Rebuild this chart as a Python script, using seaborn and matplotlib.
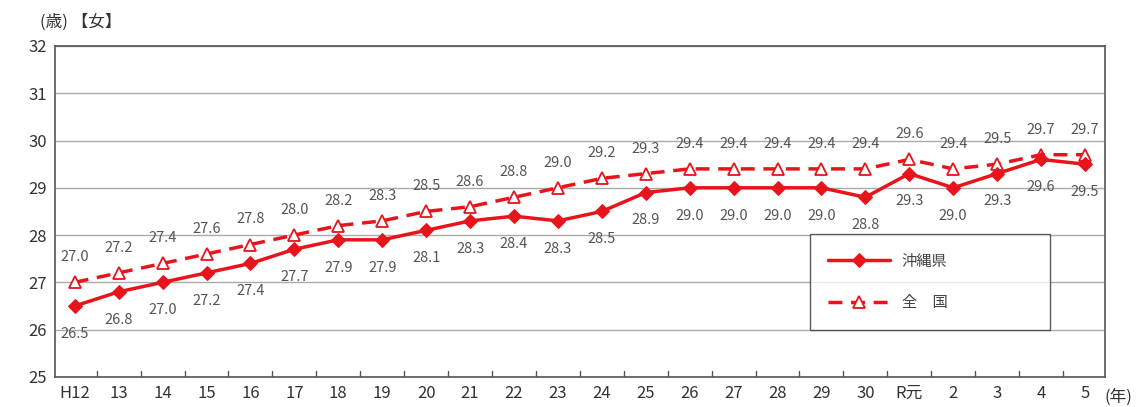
import numpy as np
import pandas as pd
import matplotlib.pyplot as plt
import seaborn as sns

years = ['H12', '13', '14', '15', '16', '17', '18', '19', '20', '21', '22', '23',
         '24', '25', '26', '27', '28', '29', '30', 'R元', '2', '3', '4', '5']
okinawa = [26.5, 26.8, 27.0, 27.2, 27.4, 27.7, 27.9, 27.9, 28.1, 28.3, 28.4, 28.3,
           28.5, 28.9, 29.0, 29.0, 29.0, 29.0, 28.8, 29.3, 29.0, 29.3, 29.6, 29.5]
national = [27.0, 27.2, 27.4, 27.6, 27.8, 28.0, 28.2, 28.3, 28.5, 28.6, 28.8, 29.0,
            29.2, 29.3, 29.4, 29.4, 29.4, 29.4, 29.4, 29.6, 29.4, 29.5, 29.7, 29.7]

sns.set_style('white')
plt.rcParams['font.family'] = ['Noto Sans CJK JP', 'DejaVu Sans']

df = pd.DataFrame({'pos': np.arange(len(years)), 'okinawa': okinawa, 'national': national})

fig = plt.figure(figsize=(11.46, 4.07), dpi=100)
ax = fig.add_axes([0.048, 0.074, 0.916, 0.813])

red = '#e8141b'
sns.lineplot(data=df, x='pos', y='national', ax=ax, color=red, lw=2.5,
             linestyle=(0, (4, 2.5)), marker='^', markersize=8,
             markerfacecolor='white', markeredgecolor=red, markeredgewidth=1.3,
             label='全\u3000国', zorder=3)
sns.lineplot(data=df, x='pos', y='okinawa', ax=ax, color=red, lw=2.5,
             marker='D', markersize=7, markeredgecolor=red,
             label='沖縄県', zorder=4)

# data labels
for i, (o, n) in enumerate(zip(okinawa, national)):
    ax.annotate(f'{n:.1f}', (i, n), xytext=(0, 13), textcoords='offset points',
                ha='center', va='bottom', fontsize=10.5, color='#555555')
    ax.annotate(f'{o:.1f}', (i, o), xytext=(0, -15), textcoords='offset points',
                ha='center', va='top', fontsize=10.5, color='#555555')

ax.set_xlim(-0.45, len(years) - 0.55)
ax.set_ylim(25, 32)
ax.set_yticks(range(25, 33))
ax.set_yticklabels([str(v) for v in range(25, 33)], fontsize=12, color='#333333')
ax.set_xticks(range(len(years)))
ax.set_xticklabels(years, fontsize=12, color='#333333')
ax.tick_params(axis='both', length=0, pad=6)
# small tick marks between categories
for b in np.arange(0.5, len(years) - 0.5, 1):
    ax.plot([b, b], [25, 25.12], color='#555555', lw=1, zorder=2)
ax.set_xlabel('')
ax.set_ylabel('')
ax.grid(axis='y', color='#aaaaaa', lw=1)
for s in ax.spines.values():
    s.set_color('#555555')
    s.set_linewidth(1.2)

handles, labels = ax.get_legend_handles_labels()
leg = ax.legend(handles[::-1], labels[::-1], loc='lower left',
                bbox_to_anchor=(0.712, 0.12, 0.243, 0.29), mode='expand',
                frameon=True, fancybox=False, fontsize=11, handlelength=4,
                labelspacing=1.6, borderpad=1.2, labelcolor='#444444')
leg.get_frame().set_edgecolor('#333333')
leg.get_frame().set_linewidth(1.0)

fig.text(0.035, 0.945, '(歳) 【女】', fontsize=12, color='#333333', ha='left', va='center')
ax.text(1.0, -0.035, '(年)', transform=ax.transAxes, fontsize=12, color='#333333',
        ha='left', va='top')

fig.savefig('out.png', dpi=100)
